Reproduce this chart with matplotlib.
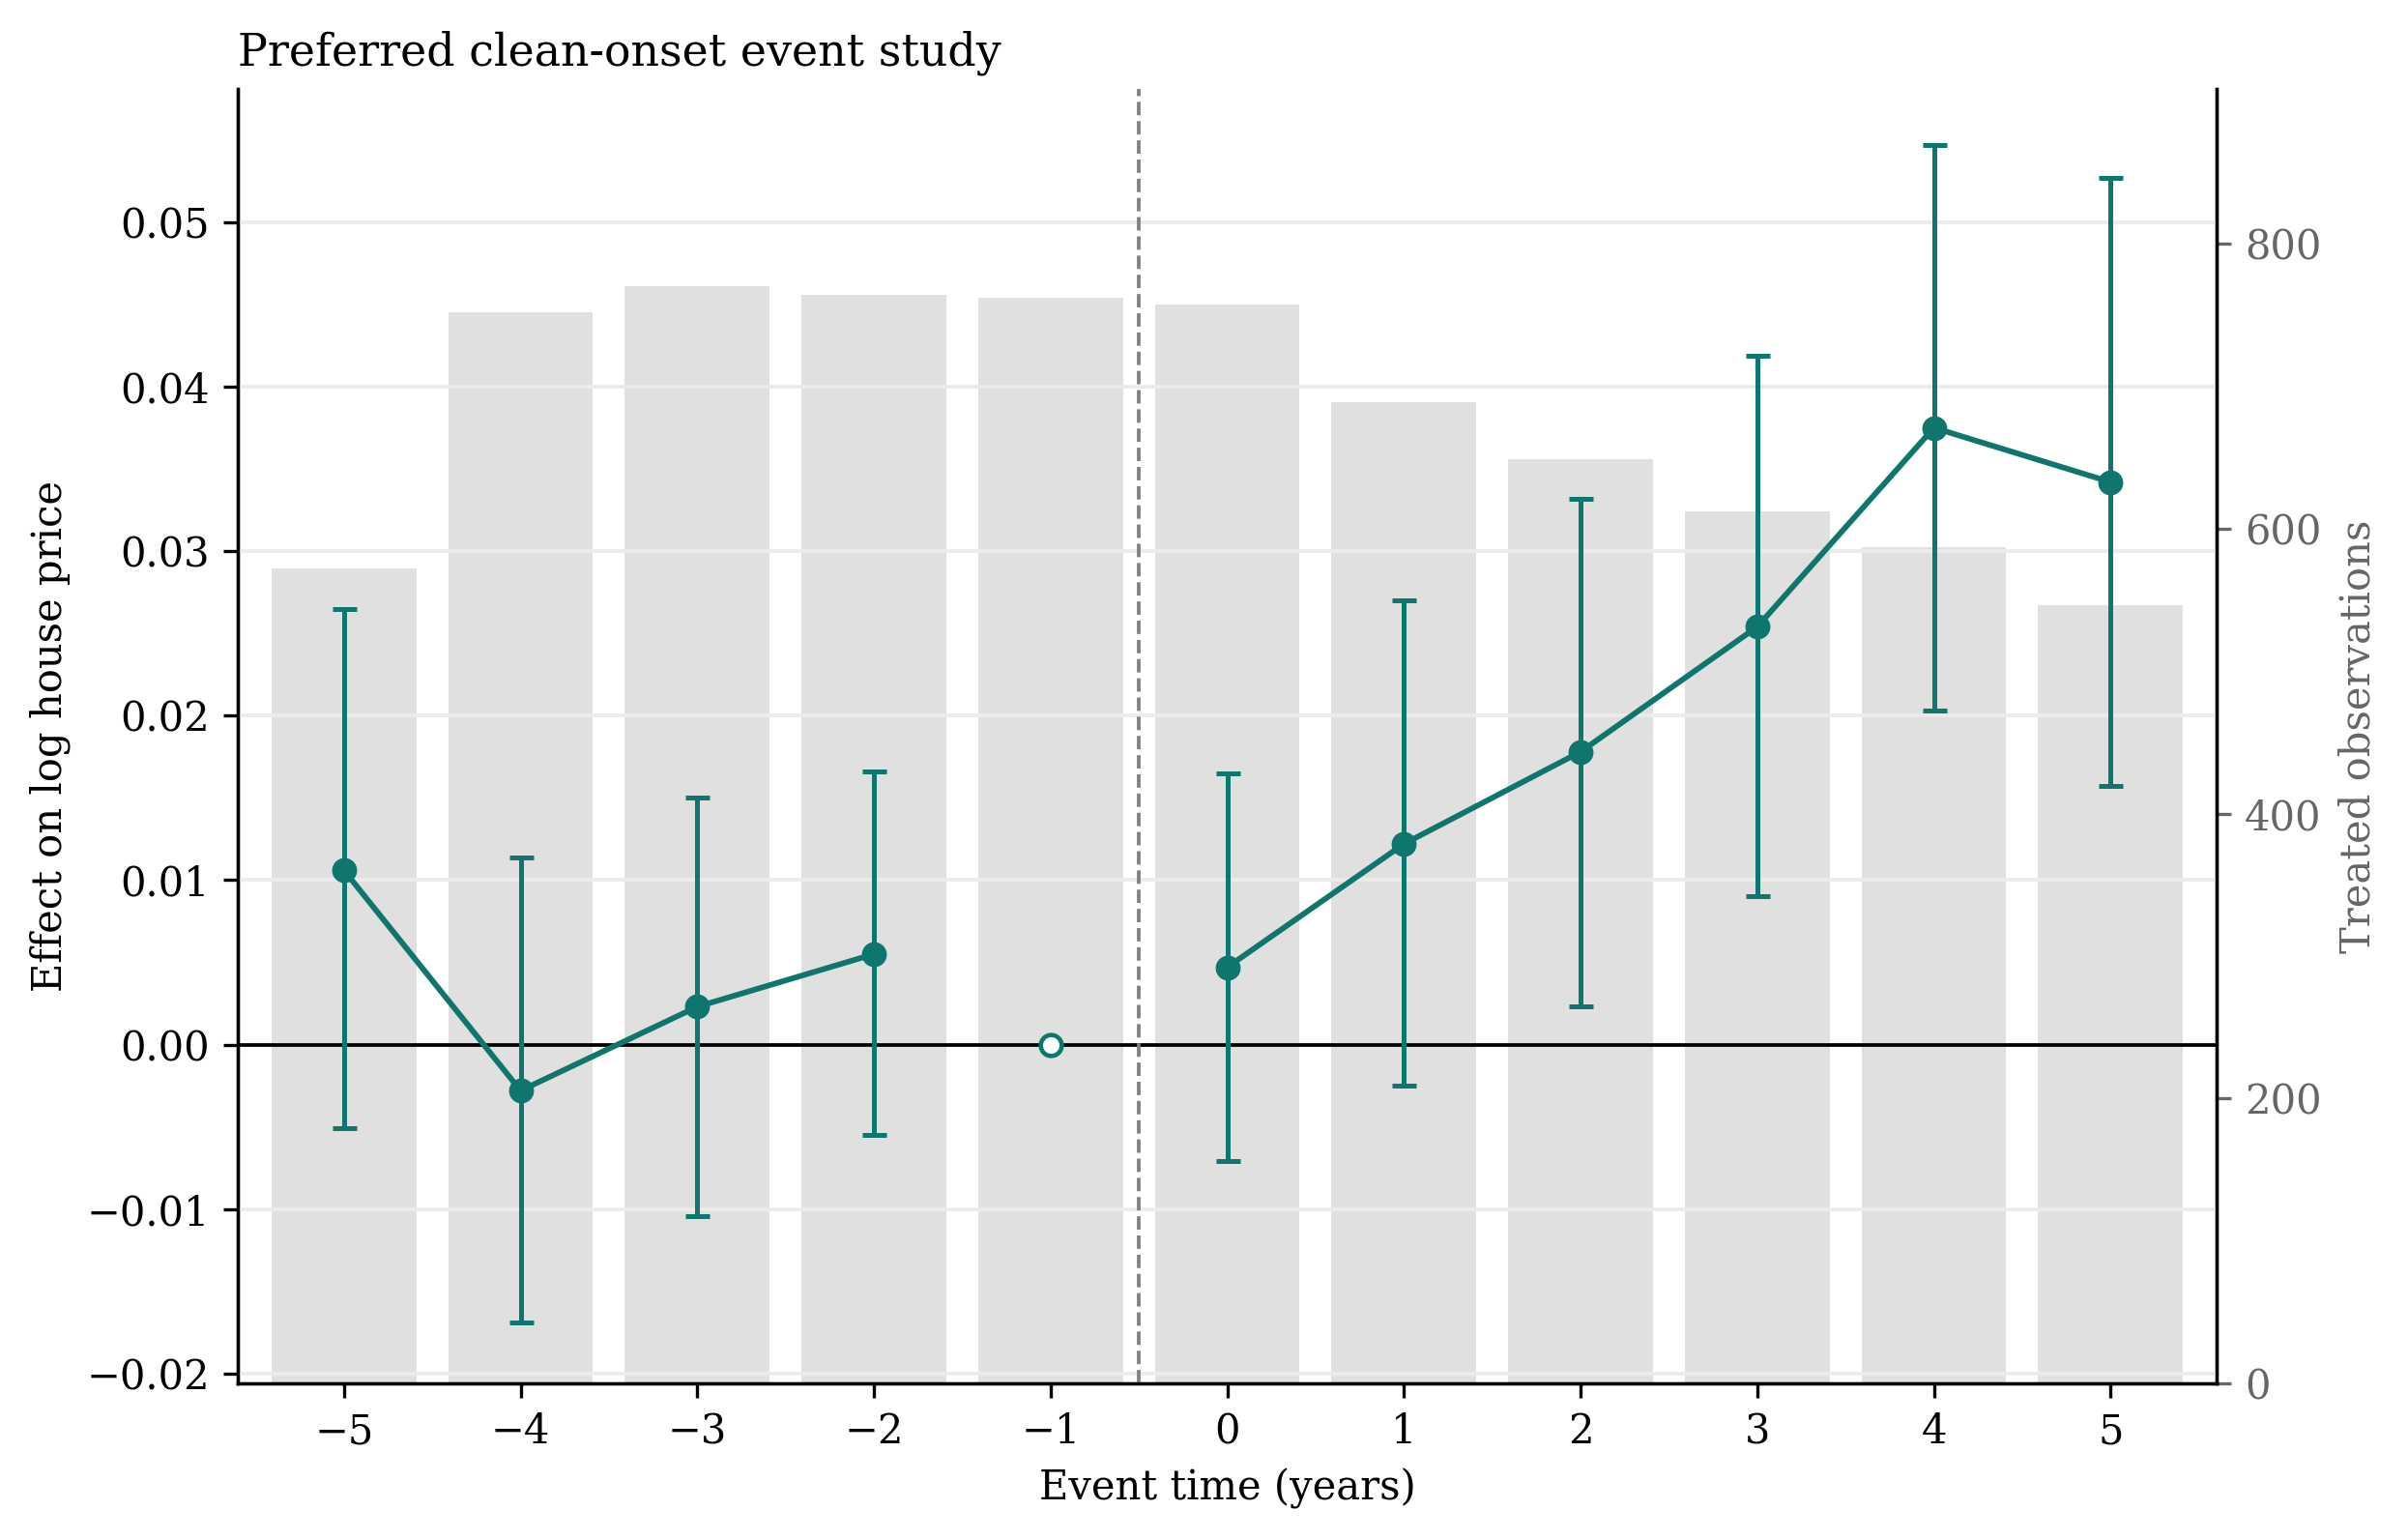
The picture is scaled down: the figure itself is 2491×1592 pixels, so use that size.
import matplotlib

matplotlib.use("Agg")
import matplotlib.pyplot as plt
import numpy as np

plt.rcParams["font.family"] = ["DejaVu Serif"]

event_time = [-5, -4, -3, -2, -1, 0, 1, 2, 3, 4, 5]
estimate = [0.0106, -0.0028, 0.0023, 0.0055, 0.0, 0.0047, 0.0122, 0.0178, 0.0254, 0.0375, 0.0342]
ci_low = [-0.0051, -0.0169, -0.0104, -0.0055, 0.0, -0.0071, -0.0025, 0.0023, 0.0090, 0.0203, 0.0157]
ci_high = [0.0265, 0.0114, 0.0150, 0.0166, 0.0, 0.0165, 0.0270, 0.0332, 0.0419, 0.0547, 0.0527]
treated_obs = [572, 752, 770, 764, 762, 757, 689, 649, 612, 587, 546]
reference_period = -1

teal = "#0f766e"

x = np.array(event_time)
est = np.array(estimate)
lo = np.array(ci_low)
hi = np.array(ci_high)
is_ref = x == reference_period
pre = (x < reference_period)
post = (x > reference_period)

fig = plt.figure(figsize=(2491 / 300, 1592 / 300), dpi=300)
fig.subplots_adjust(left=0.0988, right=0.9205, bottom=0.1011, top=0.9422)
ax = fig.add_subplot(111)
ax2 = ax.twinx()

# bars go on the twin axis, drawn behind the estimates
ax2.bar(x, treated_obs, width=0.82, color="#e0e0e0", zorder=1)
ax2.set_ylim(0, max(treated_obs) * 1.18)
ax2.set_yticks([0, 200, 400, 600, 800])
ax2.set_ylabel("Treated observations", fontsize=10, color="#666666")
ax2.tick_params(axis="y", colors="#666666", labelsize=10)
ax2.spines["right"].set_color("black")
ax2.spines["top"].set_visible(False)

ax.set_zorder(ax2.get_zorder() + 1)
ax.patch.set_visible(False)

ax.grid(axis="y", color="#ebebeb", linewidth=0.9)
ax.set_axisbelow(True)
ax.axhline(0, color="black", linewidth=0.9, zorder=2)
ax.axvline(reference_period + 0.5, color="#808080", linestyle="--", linewidth=0.9, zorder=2)

est_mask = ~is_ref
ax.errorbar(
    x[est_mask],
    est[est_mask],
    yerr=[est[est_mask] - lo[est_mask], hi[est_mask] - est[est_mask]],
    fmt="none",
    ecolor=teal,
    elinewidth=1.2,
    capsize=3,
    capthick=1.2,
    zorder=3,
)
for seg in (pre, post):
    ax.plot(x[seg], est[seg], color=teal, linewidth=1.4, marker="o", markersize=5.2, zorder=4)
ax.plot(x[is_ref], est[is_ref], linestyle="none", marker="o", markersize=5.2,
        markerfacecolor="white", markeredgecolor=teal, markeredgewidth=1.1, zorder=5)

ax.set_xlim(-5.6, 5.6)
ax.set_ylim(-0.0206, 0.0581)
ax.set_xticks(event_time)
ax.set_yticks(np.arange(-0.02, 0.051, 0.01))
ax.tick_params(labelsize=10)
ax.spines["top"].set_visible(False)
ax.set_xlabel("Event time (years)", fontsize=10)
ax.set_ylabel("Effect on log house price", fontsize=10)
ax.set_title("Preferred clean-onset event study", loc="left", fontsize=11)

fig.savefig("out.png", dpi=300)
